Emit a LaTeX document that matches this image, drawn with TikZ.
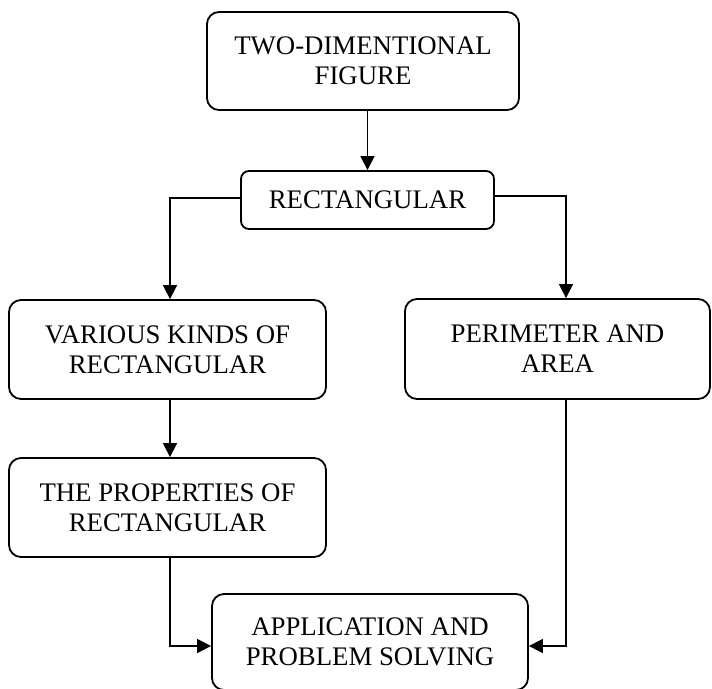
\documentclass[tikz,border=0pt]{standalone}
\usepackage{fontspec}
\setmainfont{Liberation Serif}
\usetikzlibrary{arrows.meta}
\begin{document}
\begin{tikzpicture}[x=1pt,y=-1pt,
  box/.style={draw, line width=1.8pt, rounded corners=12pt, align=center, inner sep=0pt,
    font=\fontsize{26.8}{30}\selectfont},
  conn/.style={line width=1.6pt},
  arr/.style={conn, -{Triangle[length=14pt,width=14pt]}}]
\useasboundingbox (0,0) rectangle (712,688);
\node[box, minimum width=312pt, minimum height=98pt] (top) at (363,61) {TWO-DIMENTIONAL\\FIGURE};
\node[box, rounded corners=8pt, minimum width=253pt, minimum height=58pt] (rect) at (367.5,200) {RECTANGULAR};
\node[box, minimum width=317pt, minimum height=99pt] (various) at (167.5,349.5) {VARIOUS KINDS OF\\RECTANGULAR};
\node[box, minimum width=305pt, minimum height=100pt] (perim) at (557.5,349) {PERIMETER AND\\AREA};
\node[box, minimum width=317pt, minimum height=99pt] (props) at (167.5,507.5) {THE PROPERTIES OF\\RECTANGULAR};
\node[box, minimum width=316pt, minimum height=96pt] (app) at (370,642) {APPLICATION AND\\PROBLEM SOLVING};
\coordinate (pin) at ([xshift=8.5pt]perim.north);
\coordinate (pout) at ([xshift=8.5pt]perim.south);
\coordinate (vin) at ([xshift=2.5pt]various.north);
\coordinate (vout) at ([xshift=2.5pt]various.south);
\coordinate (prin) at ([xshift=2.5pt]props.north);
\coordinate (prout) at ([xshift=2.5pt]props.south);
\coordinate (aw) at ([yshift=-4pt]app.west);
\coordinate (ae) at ([yshift=-4pt]app.east);
\coordinate (rw) at ([yshift=2pt]rect.west);
\coordinate (re) at ([yshift=4pt]rect.east);
\draw[arr] (top.south -| rect.north) -- (rect.north);
\draw[arr] (rw) -| (vin);
\draw[arr] (re) -| (pin);
\draw[arr] (vout) -- (prin);
\draw[arr] (prout) |- (aw);
\draw[arr] (pout) |- (ae);
\end{tikzpicture}
\end{document}
